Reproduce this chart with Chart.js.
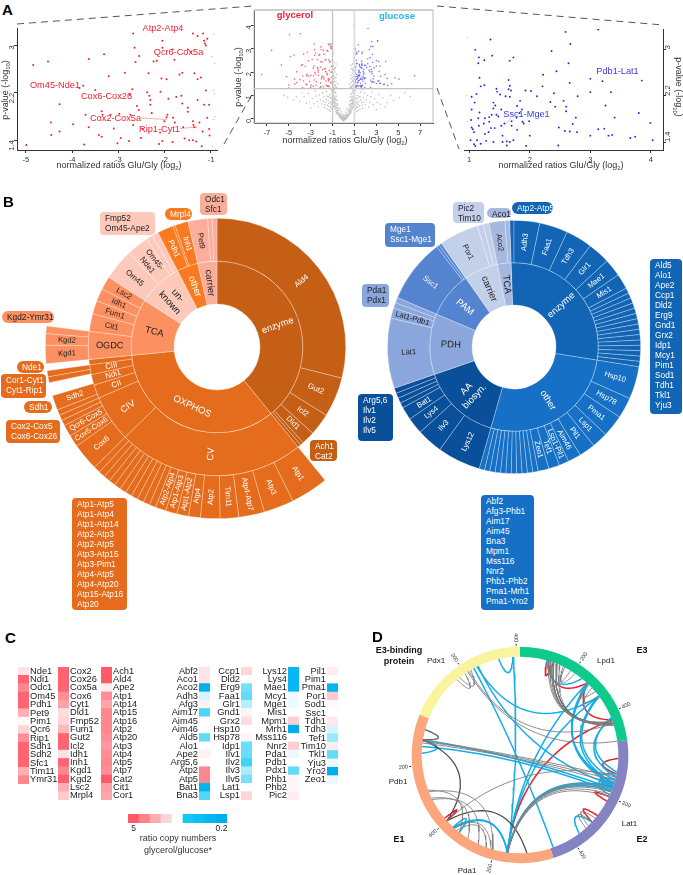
<!DOCTYPE html>
<html>
<head>
<meta charset="utf-8">
<title>Figure</title>
<script src="https://cdn.jsdelivr.net/npm/chart.js@4"></script>
<style>
  html, body { margin: 0; padding: 0; background: #fff; }
  body { position: relative; width: 683px; height: 875px; overflow: hidden; font-family: "Liberation Sans", Arial, sans-serif; color: #222; }
  canvas { position: absolute; }
  svg { position: absolute; left: 0; top: 0; }
  .t { position: absolute; white-space: nowrap; line-height: 1; }
  .t sub { font-size: 65%; line-height: 0; }
  .letter { font-weight: bold; font-size: 15px; color: #000; }
  .axis { font-size: 9px; color: #333; transform: translate(-50%, -50%); }
  .note { font-size: 9.2px; transform: translate(-50%, -50%); }
  .bold { font-weight: bold; font-size: 9px; color: #111; text-align: center; transform: translate(-50%, -50%); line-height: 11px; }
  .name { font-size: 8px; color: #222; transform: translate(-50%, -50%); }
  .box { position: absolute; box-sizing: border-box; font-size: 8.3px; line-height: 10px; white-space: pre; border-radius: 4px; padding: 1px 0 0 5px; }
</style>
</head>
<body>
<svg width="683" height="875">
  <g stroke="#444" stroke-width="0.9" stroke-dasharray="7,5" fill="none">
    <line x1="17" y1="24" x2="253" y2="6"/>
    <line x1="224" y1="144" x2="253" y2="93"/>
    <line x1="437" y1="6" x2="663" y2="25"/>
    <line x1="437" y1="88" x2="459" y2="149"/>
  </g>
  <g stroke="#f59aa0" stroke-width="0.8" fill="none">
    <line x1="141" y1="118" x2="167" y2="119.5"/>
    <line x1="180" y1="128.5" x2="197" y2="127"/>
  </g>
  <line x1="511" y1="118" x2="505" y2="125" stroke="#aab" stroke-width="0.6"/>
</svg>
<script>
// Panel A: values
const redPoints = [
  [-4.99,1.32],[-4.84,2.67],[-4.52,2.73],[-4.46,1.70],[-4.45,1.49],[-4.27,2.01],[-4.27,1.55],[-3.98,1.67],[-3.76,2.32],[-3.84,2.28],
  [-3.74,1.33],[-3.71,1.83],[-3.64,2.77],[-3.64,1.62],[-3.5,2.25],[-3.42,1.49],[-3.36,1.89],[-3.34,1.83],[-3.31,2.85],[-3.36,1.46],
  [-3.21,2.48],[-3.17,1.83],[-3.10,1.60],[-2.98,1.85],[-2.95,1.44],[-3.02,1.35],[-2.86,2.54],[-2.77,1.39],[-2.75,2.17],[-2.7,2.26],
  [-2.68,3.2],[-2.74,1.83],[-2.65,2.96],[-2.63,2.72],[-2.6,1.98],[-2.56,1.91],[-2.55,2.82],[-2.68,1.66],[-2.48,1.59],[-2.51,1.44],
  [-2.35,2.53],[-2.38,2.21],[-2.33,2.15],[-2.31,2.08],[-2.31,2.0],[-2.28,1.86],[-2.24,2.73],[-2.09,2.22],[-2.07,2.44],[-2.05,3.08],
  [-2.05,2.96],[-2.17,2.74],[-1.94,1.83],[-1.96,1.79],[-2.01,1.72],[-2.1,1.53],[-2.12,1.34],[-2.05,1.39],[-1.92,2.1],[-1.96,2.43],
  [-1.83,2.93],[-1.79,2.76],[-1.78,1.7],[-1.82,1.78],[-1.83,1.37],[-1.75,2.13],[-1.64,2.15],[-1.62,2.02],[-1.68,2.51],[-1.62,2.54],
  [-1.5,2.93],[-1.43,2.89],[-1.39,3.2],[-1.29,3.16],[-1.36,2.53],[-1.29,2.43],[-1.22,2.46],[-1.6,1.62],[-1.57,1.43],[-1.5,1.95],
  [-1.5,1.88],[-1.39,1.72],[-1.38,1.66],[-1.36,1.62],[-1.47,1.4],[-1.39,1.4],[-1.32,1.38],[-1.29,2.08],[-1.25,1.7],[-1.17,3.2],
  [-1.15,3.08],[-1.13,3.03],[-1.11,3.0],[-1.08,3.11],[-1.15,2.0],[-1.04,2.0],[-1.18,1.55],[-1.04,1.59],[-1.11,2.24],[-1.2,1.3],
  [-1.03,1.48],[-1.08,1.78]
];
const redEdgeGray = [[-0.94,3.19],[-0.98,2.81],[-0.92,2.7],[-0.95,2.24],[-0.92,1.8],[-0.95,1.75],[-0.93,2.18],[-0.97,1.3],[-0.9,1.25]];
const redExtra = [[-4.92,3.6],[-3.94,3.64],[-6.56,2.93],[-7.46,1.9],[-5.67,2.3],[-5.2,1.8],[-5.0,1.45]];

const bluePoints = [
  [1.35,3.17],[1.1,2.99],[1.16,2.86],[1.15,2.76],[1.25,2.81],[1.38,2.89],[1.67,2.8],[1.73,2.86],[2.36,2.97],[2.59,3.3],
  [2.67,3.09],[2.64,2.76],[3.13,3.34],[2.44,2.62],[2.22,2.56],[1.17,2.51],[1.25,2.38],[1.19,2.36],[1.65,2.47],[1.67,2.37],
  [1.45,2.32],[1.46,2.27],[1.65,2.31],[1.69,2.29],[1.12,2.23],[1.04,2.18],[1.51,2.22],[1.6,2.19],[1.67,2.18],[1.09,2.08],
  [1.4,2.08],[1.43,2.03],[1.84,2.11],[1.79,2.02],[1.93,2.29],[2.02,2.28],[2.12,2.19],[2.21,2.36],[2.4,2.24],[2.34,2.09],
  [2.56,2.11],[2.6,2.01],[2.6,1.93],[2.42,2.01],[2.66,2.42],[2.79,2.19],[3.0,2.49],[3.0,2.26],[3.2,2.45],[3.85,2.46],
  [3.34,2.26],[3.25,2.03],[3.4,1.82],[3.8,1.9],[2.76,1.82],[3.99,1.73],[1.04,1.96],[1.17,1.91],[1.03,1.78],[1.15,1.81],
  [1.26,1.81],[1.33,1.83],[1.37,1.87],[1.45,1.87],[1.48,1.84],[1.4,1.98],[1.53,1.96],[1.87,1.96],[1.83,1.9],[1.78,1.82],
  [1.7,1.76],[1.53,1.68],[1.58,1.72],[1.24,1.72],[1.16,1.68],[1.04,1.65],[1.06,1.62],[1.08,1.57],[1.33,1.75],[1.36,1.64],
  [1.42,1.64],[1.26,1.54],[1.32,1.57],[1.7,1.68],[1.79,1.61],[1.88,1.75],[1.9,1.72],[1.99,1.76],[2.0,1.51],[2.48,1.65],
  [2.58,1.59],[2.66,1.58],[2.71,1.71],[2.78,1.57],[3.0,1.51],[3.13,1.62],[3.23,1.63],[3.3,1.51],[3.36,1.52],[3.66,1.47],
  [3.74,1.49],[4.03,1.43],[1.02,1.43],[1.08,1.36],[1.13,1.43],[1.1,1.33],[1.19,1.37],[1.28,1.42],[1.4,1.4],[1.55,1.51],
  [1.55,1.4],[1.62,1.41],[1.62,1.34],[1.67,1.4],[1.73,1.43],[1.94,1.33],[2.47,1.34]
];
const blueEdgeGray = [[0.97,3.2],[0.95,2.2],[0.97,1.75],[0.96,1.33],[2.47,1.3],[1.94,1.28]];
const blueExtra = [[2.24,3.87],[6.5,1.84],[5.07,1.7],[3.1,3.33],[2.5,3.1],[4.4,1.5],[4.7,1.75]];

const grayPoints = [
  [0,-.08],[.1,-.05],[-.1,-.04],[.2,0],[-.2,0],[.05,0],[-.05,.02],[.3,.05],[-.3,.05],[.15,.06],[-.15,.07],[.4,.1],[-.4,.1],[.25,.12],[-.25,.13],[.02,.1],
  [.5,.15],[-.5,.16],[.35,.18],[-.35,.2],[.6,.22],[-.6,.22],[.45,.25],[-.45,.26],[.7,.3],[-.7,.3],[.55,.32],[-.55,.33],[.08,.03],[-.08,.08],[.18,.14],[-.18,.15],
  [.28,.03],[-.28,.02],[.12,.01],[-.12,.0],[.38,.14],[-.38,.15],[.62,.34],[-.62,.36],[.75,.4],[-.75,.41],[.85,.48],[-.85,.5],[.95,.55],[-.95,.56],[.66,.46],[-.66,.47],
  [.8,.6],[-.8,.62],[.9,.7],[-.9,.72],[.72,.66],[-.72,.68],[1.0,.8],[-1.0,.8],[.6,.55],[-.6,.58],[.5,.45],[-.5,.47],[.88,.85],[-.88,.88],[.78,.9],[-.78,.92],
  [.96,1.0],[-.96,1.02],[.7,1.05],[-.7,1.08],[.85,1.15],[-.85,1.17],[.92,1.25],[-.92,1.26],[1.05,.4],[-1.05,.42],[1.1,.6],[-1.1,.62],[1.2,.3],[-1.2,.32],[1.3,.5],[-1.3,.53],
  [1.15,.85],[-1.15,.87],[1.25,1.0],[-1.25,1.03],[1.1,1.2],[-1.1,1.22],[1.4,.75],[-1.4,.78],[1.5,.95],[-1.5,.97],[1.55,1.15],[-1.55,1.17],[1.45,.55],[-1.45,.58],[1.65,.7],[-1.65,.72],
  [1.75,.45],[-1.75,.48],[1.8,.9],[-1.8,.93],[1.9,1.1],[-1.9,1.12],[2.0,.6],[-2.0,.63],[2.1,.8],[-2.1,.82],[2.2,1.0],[-2.2,1.02],[2.3,.5],[-2.3,.52],[2.4,.7],[-2.4,.74],
  [2.5,.95],[-2.5,.98],[2.6,1.15],[-2.6,1.18],[2.7,.6],[-2.7,.64],[2.85,.85],[-2.85,.88],[3.0,.4],[-3.0,.45],[3.1,.7],[-3.1,.72],[3.2,1.05],[-3.2,1.08],[3.4,.62],[-3.4,.66],
  [3.6,.9],[-3.6,.94],[3.8,.5],[-3.8,1.1],[4.0,.7],[-4.0,.75],[4.3,1.0],[-4.3,.95],[4.6,.78],[-4.6,.82],[5.1,.9],[-5.1,.92],[5.6,1.1],[-5.4,1.0],[6.1,.95],[1.7,1.25],
  [-.98,1.4],[-.9,1.55],[-.85,1.7],[-.92,1.85],[-.78,2.0],[-.88,2.1],[-.95,2.25],[-.8,1.45],[-.7,1.6],[-.6,1.35],[-.65,1.9],[-.72,1.32],[-.55,1.5],[-.84,2.4],[-.9,2.8],[-.96,3.2],
  [.98,1.4],[.9,1.5],[.84,1.65],[.92,1.8],[.78,1.95],[.88,2.05],[.95,2.2],[.8,1.4],[.7,1.55],[.6,1.36],[.66,1.85],[.72,1.33],[.55,1.48],[.84,2.35],[.9,2.6],[.96,3.0],
  [.75,2.15],[.86,1.6],[.94,1.7],[.82,1.78],[.68,2.3],[-.74,2.2],[-.87,1.62],[-.94,1.75],[-.82,1.8],[-.68,2.35],[.92,4.0],[.3,.42],[-.3,.44],[.2,.28],[-.2,.3],[.42,.36],
  [-.42,.38],[.58,.62],[-.58,.64],[.68,.78],[-.68,.8],[.82,.72],[-.82,.74],[.98,.92],[-.98,.94],[1.02,1.1],[-1.02,1.12],[1.08,.72],[-1.08,.74],[1.18,.5],[-1.18,.52],[1.28,.72],
  [.03,-.03],[-.03,-.06],[.07,.05],[-.07,.04],[.14,-.02],[-.14,.03],[.22,.08],[-.22,.09],[.32,.1],[-.32,.11],[.04,.16],[-.04,.17],[.42,.2],[-.42,.21],[.52,.24],[-.52,.25],
  [.65,.27],[-.65,.27],[.24,.2],[-.24,.22],[.48,.34],[-.48,.36],[.58,.4],[-.58,.42],[.7,.5],[-.7,.52],[.8,.45],[-.8,.46],[.9,.5],[-.9,.53],[.97,.65],[-.97,.67],
  [.76,.56],[-.76,.58],[.84,.66],[-.84,.68],[.92,.8],[-.92,.82],[.8,.78],[-.8,.8],[.74,.84],[-.74,.86],[.86,.96],[-.86,.98],[.94,1.1],[-.94,1.12],[.78,1.12],[-.78,1.14],
  [.88,1.22],[-.88,1.24],[.66,.95],[-.66,.97],[.6,.75],[-.6,.78],[.54,.6],[-.54,.62],[1.04,.62],[-1.04,.64],[1.06,.9],[-1.06,.92],[1.12,.42],[-1.12,.44],[1.2,.68],[-1.2,.7],
  [1.22,.88],[-1.22,.9],[1.32,.35],[-1.32,.37],[1.35,.62],[-1.35,.65],[1.38,.92],[-1.38,.95],[1.5,.4],[-1.5,.42],[1.58,.8],[-1.58,.83],[1.7,.58],[-1.7,.6],[1.85,.72],[-1.85,.75],
  [.9,1.32],[.86,1.44],[.74,1.38],[.96,1.58],[.7,1.72],[.94,1.92],[.82,2.1],[-.9,1.34],[-.86,1.46],[-.74,1.4],[-.96,1.6],[-.7,1.76],[-.94,1.96],[-.82,2.14],[.98,2.45],[-.98,2.5]
];

// Panel B left: arc spans in degrees, clockwise from 12 o'clock
const leftInnerLabels = ['enzyme','OXPHOS','TCA','un-\nknown','other','carrier'];
const leftInnerSpans = [141,123.4,38.4,29.9,14.3,13];
const leftMidLabels = ['Ald4','Gut2','Icl2','Dld1','','','CV','CIV','CII','Ndi1','CIII','','OGDC','Cit1','Fum1','Idh1','Lsc2','Om45','Om45-\nNde1','','','Pdh1','','Inh1','Pet9','',''];
const leftMidSpans = [104,18,10,6,1.5,1.5,84.5,21.2,6.1,4.8,4.4,2.4,12.6,8,6,5.8,6,14.2,10,2.8,2.9,7.3,1,6,8.8,2.1,2.1];
const leftOuterLabels = ['','Atp1','Atp3','Atp4-Atp7','Tim11','Atp2','Atp4','Atp1-Atp2','Atp1-Atp3','Atp2-Atp4','','','','','','','','','','','','Cox6','Cox5-Cox6','Qcr6-Cox5','','','','Sdh2','','','','','Kgd1','Kgd2','',''];
const leftOuterSpans = [141,12.8,10.2,8.7,6.3,6.6,4,3.9,3.9,3.6,2.23,2.23,2.23,2.23,2.23,2.23,2.23,2.23,2.23,2.23,2.23,9.3,4,4,1.9,1.9,1.9,5,4.5,2,2,2.4,6.2,3.9,2.5,83];

// Panel B right
const rightInnerLabels = ['enzyme','other','AA\nbiosyn.','PDH','PAM','carrier','TCA'];
const rightInnerSpans = [101,97,55,42,32,23.6,9.4];
const rightOuterLabels = ['','Adh3','Faa1','Tdh3','Glr1','Mae1','Mis1','','','','','','','','','','','','','','','','Hsp10','Hsp78','Pma1','Lsp1','Pil1','Aim46','Lsp1-Pil1','Tef1','Zeo1','','','','','','','','','','','','Lys12','Ilv3','Lys4','Bat1','','','','','Lat1','Lat1-Pdb1','','','Ssc1','','','Por1','','','Aco2',''];
const rightOuterSpans = [2,11.8,13,12.2,10.2,8.1,7.1,2.44,2.44,2.44,2.44,2.44,2.44,2.44,2.44,2.44,2.44,2.44,2.44,2.44,2.44,2.44,15,9.6,10.1,7.3,7.5,6,4.5,5,5,2.45,2.45,2.45,2.45,2.45,2.45,2.45,2.45,2.45,2.45,2.45,19.9,11.9,7.6,6,2.4,2.4,2.4,2.4,32.2,4.8,2.5,2.5,29.4,1.3,1.3,18.2,2.7,2.7,7.3,2.1];

const atpBox = ['Atp1-Atp5','Atp1-Atp4','Atp1-Atp14','Atp2-Atp3','Atp2-Atp5','Atp3-Atp15','Atp3-Pim1','Atp4-Atp5','Atp4-Atp20','Atp15-Atp16','Atp20'];
const enzymeBox = ['Ald5','Alo1','Ape2','Ccp1','Dld2','Erg9','Gnd1','Grx2','Idp1','Mcy1','Pim1','Sod1','Tdh1','Tkl1','Yju3'];
const otherBox = ['Abf2','Afg3-Phb1','Aim17','Aim45','Bna3','Mpm1','Mss116','Nnr2','Phb1-Phb2','Pma1-Mrh1','Pma1-Yro2'];
const aaBox = ['Arg5,6','Ilv1','Ilv2','Ilv5'];

// Panel C: copy number ratios glycerol/glucose
const col1Names = ['Nde1','Ndi1','Odc1','Om45','Pdh1','Pet9','Pim1','Qcr6','Rip1','Sdh1','Sdh2','Sfc1','Tim11','Ymr31'];
const col1Ratios = [1.3,4.5,3.2,4.5,4.5,2.2,1.05,1.5,3,4.5,4.5,4.5,2.2,3.2];
const col2Names = ['Cox2','Cox26','Cox5a','Cox6','Cyt1','Dld1','Fmp52','Fum1','Gut2','Icl2','Idh1','Inh1','Kgd1','Kgd2','Lsc2','Mrpl4'];
const col2Ratios = [4.5,4.5,4.5,3,2.5,1.4,1.5,2,4.5,4.5,1.3,4.5,3.2,4.7,2.2,1.7];
const col3Names = ['Ach1','Ald4','Ape2','Atp1','Atp14','Atp15','Atp16','Atp2','Atp20','Atp3','Atp4','Atp5','Atp7','Cat2','Cit1','Cor1'];
const col3Ratios = [5,5,1.2,3,2.4,3.2,3.2,3.2,3,2.7,3,3.2,3,5,2.6,2.4];
const col4Names = ['Abf2','Aco1','Aco2','Adh3','Afg3','Aim17','Aim45','Aim46','Ald5','Alo1','Ape2','Arg5,6','Atp2','Atp5','Bat1','Bna3'];
const col4Ratios = [1.3,1.3,.2,.8,1.15,.4,1.02,1.02,.45,1,1.15,1,3.2,3.2,.22,.42];
const col5Names = ['Ccp1','Dld2','Erg9','Faa1','Glr1','Gnd1','Grx2','Hsp10','Hsp78','Idp1','Ilv1','Ilv2','Ilv3','Ilv5','Lat1','Lsp1'];
const col5Ratios = [1.5,1,.5,.45,.7,1.1,1.4,1,1.1,.47,.47,.38,.65,.5,1,1.5];
const col6Names = ['Lys12','Lys4','Mae1','Mcy1','Mge1','Mis1','Mpm1','Mrh1','Mss116','Nnr2','Pda1','Pdb1','Pdx1','Phb1','Phb2','Pic2'];
const col6Ratios = [.23,.23,.23,.92,.92,1,1.6,.2,1,1.6,.9,1,.45,1.1,1.1,1.2];
const col7Names = ['Pil1','Pim1','Pma1','Por1','Sod1','Ssc1','Tdh1','Tdh3','Tef1','Tim10','Tkl1','Yju3','Yro2','Zeo1'];
const col7Ratios = [1.2,1,.22,1.7,1.05,1,1.25,.8,.6,1.2,.45,.9,.2,.9];
const legendLabels = ['5','','','','','','','','0.2'];
const legendRatios = [5,3.4,2.3,1.5,1,.3,.26,.23,.2];

// Panel D: ring segments and crosslinks, positions in degrees on the ring
const ringSpans = [82,80,130,68];
const ringTickAngles = [33,65,115,148,195,228,264,326,358];
const ringTickLabels = ['200','400','200','400','200','400','200','200','400'];
const grayLinks = [
  [278.8,103],[278,105],[277,107],[327.9,81.9],[328.7,71.3],[228,102],[187.4,110.7],[187.4,112],[187.4,113.5],[187.4,115],[187.4,109],
  [16.9,70],[18,70.5],[19,71],[20,71.5],[22,72],[24,72.5],[26,34],[27,31],[43,50],[47,54],
  [249,218],[244,212],[243,205],[248,196],[222.5,197],[220,200],[330,322],[326,320],[133,138],[130,136],[285,279]
];
const darkLinks = [[278.8,228],[285,279],[228,176],[22,71],[20,71.5]];
const blueLinks = [
  [278.8,110],[275,112],[332,160.3],[334.7,108],[356,187],[347.5,356],[334,53.3],[187.4,43],[187.4,53.3],[187.4,108.8],[187.4,109.8],[187.4,111],
  [43,106.5],[43.5,107],[44,108],[53,107],[53.5,105],[67.8,100],[68,103],[15.7,39],[279,271],[222.6,187.2],[222,187.4],[222.8,218],[143,133],
  [106,112],[104,110],[108,114],[101,109]
];
const redLinks = [[187.4,69],[16.8,43],[43,69],[16,20],[92,101],[115,118],[133,128],[230,228]];

// Chart defaults
const FONT = '"Liberation Sans", Arial, sans-serif';
Chart.defaults.font.family = FONT;
Chart.defaults.animation = false;
Chart.defaults.responsive = false;
Chart.defaults.plugins.legend.display = false;
Chart.defaults.plugins.tooltip.enabled = false;

function addCanvas(left, top, width, height) {
  const canvas = document.createElement("canvas");
  canvas.width = width;
  canvas.height = height;
  canvas.style.left = left + "px";
  canvas.style.top = top + "px";
  canvas.style.width = width + "px";
  canvas.style.height = height + "px";
  document.body.appendChild(canvas);
  return canvas;
}

function addText(className, left, top, html, color, extraStyle) {
  const el = document.createElement("div");
  el.className = "t " + className;
  el.style.left = left + "px";
  el.style.top = top + "px";
  el.innerHTML = html;
  if (color) el.style.color = color;
  if (extraStyle) el.style.cssText += extraStyle;
  document.body.appendChild(el);
}

function addBox(left, top, width, height, lines, bg, fg, radius) {
  const el = document.createElement("div");
  el.className = "box";
  el.style.left = left + "px";
  el.style.top = top + "px";
  el.style.width = width + "px";
  el.style.height = height + "px";
  el.style.background = bg;
  el.style.color = fg;
  if (radius) el.style.borderRadius = radius + "px";
  el.textContent = lines.join("\n");
  document.body.appendChild(el);
}

const asXY = (pairs) => pairs.map((p) => ({ x: p[0], y: p[1] }));

// stops the layout from shrinking the plot for tick labels that stick out
function noOverflow(scale) {
  scale.paddingLeft = 0;
  scale.paddingRight = 0;
  scale.paddingTop = 0;
  scale.paddingBottom = 0;
}

// Panel A
function volcanoScale(min, max, ticks, fixedSize, extra) {
  return Object.assign({
    type: "linear",
    min: min,
    max: max,
    grid: { drawOnChartArea: false, drawTicks: true, tickLength: 3, color: "#333" },
    border: { display: true, color: "#333", width: 1 },
    ticks: { font: { size: 7.5 }, color: "#333", padding: 2, autoSkip: false, callback: (v) => String(v) },
    afterBuildTicks: (scale) => { scale.ticks = ticks.map((v) => ({ value: v })); },
    afterFit: (scale) => {
      if (scale.isHorizontal()) scale.height = fixedSize;
      else scale.width = fixedSize;
      noOverflow(scale);
    },
  }, extra || {});
}

function pointsDataset(pairs, color, radius) {
  return { data: asXY(pairs), pointRadius: radius, pointBackgroundColor: color, pointBorderWidth: 0, showLine: false };
}

function createSidePanel(canvas, datasets, xRange, yRange, xTicks, yTicks, yPosition) {
  const yScale = volcanoScale(yRange[0], yRange[1], yTicks, 17, { position: yPosition });
  yScale.ticks = Object.assign({}, yScale.ticks, { minRotation: 90, maxRotation: 90 });
  return new Chart(canvas, {
    type: "scatter",
    data: { datasets: datasets },
    options: { layout: { padding: 0 }, scales: { x: volcanoScale(xRange[0], xRange[1], xTicks, 14), y: yScale } },
  });
}

createSidePanel(addCanvas(0, 24, 221, 140),
  [pointsDataset(redEdgeGray, "#c9c9c9", 0.8), pointsDataset(redPoints, "#f0202e", 1.0)],
  [-5.19, -0.87], [1.237, 3.293], [-5, -4, -3, -2, -1], [1.4, 2.2, 3], "left");

createSidePanel(addCanvas(460, 25, 220, 139),
  [pointsDataset(blueEdgeGray, "#d4d4d4", 0.8), pointsDataset(bluePoints, "#2323e0", 0.95)],
  [0.914, 4.2], [1.262, 3.35], [1, 2, 3, 4], [1.4, 2.2, 3], "right");

const volcanoFrame = {
  id: "volcanoFrame",
  afterDatasetsDraw(chart) {
    const { ctx, chartArea: a, scales: { x, y } } = chart;
    ctx.save();
    ctx.strokeStyle = "#c4c4c4";
    ctx.lineWidth = 1.3;
    ctx.beginPath();
    ctx.moveTo(a.left, y.getPixelForValue(1.29));
    ctx.lineTo(a.right, y.getPixelForValue(1.29));
    ctx.moveTo(x.getPixelForValue(-1), a.top);
    ctx.lineTo(x.getPixelForValue(-1), a.bottom);
    ctx.stroke();
    ctx.strokeStyle = "#dedede";
    ctx.lineWidth = 1.8;
    ctx.beginPath();
    ctx.moveTo(x.getPixelForValue(1), a.top);
    ctx.lineTo(x.getPixelForValue(1), a.bottom);
    ctx.stroke();
    ctx.strokeStyle = "#bdbdbd";
    ctx.lineWidth = 1;
    ctx.strokeRect(a.left, a.top, a.right - a.left, a.bottom - a.top);
    ctx.strokeStyle = "#cfcfcf";
    ctx.lineWidth = 2.2;
    ctx.beginPath();
    ctx.moveTo(a.left, a.top);
    ctx.lineTo(a.right, a.top);
    ctx.stroke();
    ctx.restore();
  },
};

(function createCenterPanel() {
  const yScale = volcanoScale(-0.18, 4.66, [0, 1, 2, 3, 4], 18);
  yScale.ticks = Object.assign({}, yScale.ticks, { minRotation: 90, maxRotation: 90 });
  new Chart(addCanvas(236, 6, 201, 131), {
    type: "scatter",
    data: {
      datasets: [
        pointsDataset(grayPoints, "#bdbdbd", 0.75),
        pointsDataset(redPoints.concat(redExtra), "rgba(240,40,56,0.72)", 0.8),
        pointsDataset(bluePoints.concat(blueExtra), "rgba(50,50,235,0.65)", 0.8),
      ],
    },
    options: { layout: { padding: 0 }, scales: { x: volcanoScale(-8.17, 8.17, [-7, -5, -3, -1, 1, 3, 5, 7], 14), y: yScale } },
    plugins: [volcanoFrame],
  });
})();

const XLABEL = "normalized ratios Glu/Gly (log<sub>2</sub>)";
const PLABEL = "p-value (-log<sub>10</sub>)";
addText("letter", 2, 2, "A");
addText("axis", 119, 165, XLABEL);
addText("axis", 345, 140, XLABEL);
addText("axis", 561, 165, XLABEL);
addText("axis", 5, 90, PLABEL, null, "transform:translate(-50%,-50%) rotate(-90deg);");
addText("axis", 238, 77, PLABEL, null, "transform:translate(-50%,-50%) rotate(-90deg);");
addText("axis", 678, 87, PLABEL, null, "transform:translate(-50%,-50%) rotate(90deg);");
addText("t", 295, 15, "glycerol", "#f0203a", "transform:translate(-50%,-50%);font-weight:bold;font-size:9.5px;");
addText("t", 397, 15.5, "glucose", "#22b8ec", "transform:translate(-50%,-50%);font-weight:bold;font-size:9.5px;");
const RED_NOTE = "#ee2230";
const BLUE_NOTE = "#3a3ae4";
addText("note", 163, 28.5, "Atp2-Atp4", RED_NOTE);
addText("note", 178.5, 52.7, "Qcr6-Cox5a", RED_NOTE);
addText("note", 55, 85.7, "Om45-Nde1", RED_NOTE);
addText("note", 106.5, 97, "Cox6-Cox26", RED_NOTE);
addText("note", 115.5, 119, "Cox2-Cox5a", RED_NOTE);
addText("note", 159.5, 130, "Rip1-Cyt1", RED_NOTE);
addText("note", 617.5, 72, "Pdb1-Lat1", BLUE_NOTE);
addText("note", 526.5, 114.5, "Ssc1-Mge1", BLUE_NOTE);

// Panel B
const BROWN = "#c65f16", OX = "#e46c1c", TCA = "#fd9061", UNK = "#fcc9bb", OTH = "#fa7a21", CAR = "#fdae9b";
const B_ENZ = "#1265b4", B_OTH = "#1570c6", B_AA = "#0a4f99", B_PDH = "#8aa6dc", B_PAM = "#5484cf", B_CAR = "#c3d0ea", B_TCA = "#a6b8e0";
const NONE = "transparent";
const DARK_TEXT = [TCA, UNK, CAR, B_PDH, B_CAR, B_TCA];
const BIG_TEXT = ["CV", "CIV", "OGDC"];

function runs() {
  // runs(color, count, color, count, ...) gives one colour per arc
  const out = [];
  for (let i = 0; i < arguments.length; i += 2) {
    for (let n = 0; n < arguments[i + 1]; n++) out.push(arguments[i]);
  }
  return out;
}

function ring(spans, labels, colors, fontSize) {
  return {
    data: spans,
    labelsText: labels,
    labelFont: fontSize,
    backgroundColor: colors,
    borderColor: colors.map((c) => (c === NONE ? NONE : "rgba(255,255,255,0.36)")),
    borderWidth: 0.8,
  };
}

const sunLabels = {
  id: "sunLabels",
  afterDatasetsDraw(chart) {
    const ctx = chart.ctx;
    chart.data.datasets.forEach((ds, di) => {
      chart.getDatasetMeta(di).data.forEach((arc, i) => {
        const text = ds.labelsText[i];
        if (!text) return;
        const p = arc.getProps(["x", "y", "startAngle", "endAngle", "innerRadius", "outerRadius"]);
        const mid = (p.startAngle + p.endAngle) / 2;
        const rad = (p.innerRadius + p.outerRadius) / 2;
        const theta = (mid * 180) / Math.PI + 90;
        const norm = ((theta % 360) + 360) % 360;
        let rot = norm < 180 ? norm - 90 : norm - 270;
        if (text === "OXPHOS") rot = 25;
        const size = BIG_TEXT.includes(text) ? 9.2 : ds.labelFont;
        ctx.save();
        ctx.translate(p.x + rad * Math.cos(mid), p.y + rad * Math.sin(mid));
        ctx.rotate((rot * Math.PI) / 180);
        ctx.font = size + "px " + FONT;
        ctx.textAlign = "center";
        ctx.textBaseline = "middle";
        ctx.fillStyle = DARK_TEXT.includes(ds.backgroundColor[i]) ? "#222" : "#fff";
        const lines = text.split("\n");
        lines.forEach((line, n) => {
          ctx.fillText(line, 0, (n - (lines.length - 1) / 2) * (size + 1.5));
        });
        ctx.restore();
      });
    });
  },
};

function createSunburst(cx, cy, radius, hole, datasets, rotation) {
  const size = Math.ceil(radius * 2 + 2);
  const canvas = addCanvas(cx - size / 2, cy - size / 2, size, size);
  return new Chart(canvas, {
    type: "doughnut",
    data: { datasets: datasets },
    options: { rotation: rotation, cutout: hole, layout: { padding: 0 } },
    plugins: [sunLabels],
  });
}

createSunburst(216.7, 347.3, 171, 43, [
  ring(leftOuterSpans, leftOuterLabels, runs(NONE, 1, OX, 20, OX, 7, NONE, 1, OX, 2, NONE, 1, TCA, 3, NONE, 1), 7.6),
  ring(leftMidSpans, leftMidLabels, runs(BROWN, 6, OX, 6, TCA, 5, UNK, 4, OTH, 3, CAR, 3), 7.8),
  ring(leftInnerSpans, leftInnerLabels, [BROWN, OX, TCA, UNK, OTH, CAR], 9.5),
], 0);

createSunburst(514, 347.3, 126, 42, [
  ring(rightOuterSpans, rightOuterLabels, runs(B_ENZ, 22, B_OTH, 20, B_AA, 8, B_PDH, 4, B_PAM, 3, B_CAR, 3, B_TCA, 2), 7.6),
  ring(rightInnerSpans, rightInnerLabels, [B_ENZ, B_OTH, B_AA, B_PDH, B_PAM, B_CAR, B_TCA], 9.5),
], -2);

addText("letter", 3, 194, "B");
addBox(200, 193, 27, 22, ["Odc1", "Sfc1"], CAR, "#222");
addBox(165, 208, 27, 11.5, ["Mrpl4"], OTH, "#fff", 6);
addBox(100, 212, 55, 23, ["Fmp52", "Om45-Ape2"], UNK, "#222");
addBox(2, 311, 52, 11.5, ["Kgd2-Ymr31"], TCA, "#222", 6);
addBox(17, 361, 27, 11.5, ["Nde1"], OX, "#fff", 6);
addBox(1, 374, 45, 24, ["Cor1-Cyt1", "Cyt1-Rip1"], OX, "#fff");
addBox(24, 401, 28, 11.5, ["Sdh1"], OX, "#fff", 6);
addBox(6, 420, 54, 23, ["Cox2-Cox5", "Cox6-Cox26"], OX, "#fff");
addBox(310, 440, 27, 21, ["Ach1", "Cat2"], BROWN, "#fff");
addBox(72, 498, 55, 112, atpBox, OX, "#fff");
addBox(453, 202, 31, 21, ["Pic2", "Tim10"], B_CAR, "#222");
addBox(487, 208, 24, 9.5, ["Aco1"], B_TCA, "#222", 5);
addBox(512, 202, 41, 12, ["Atp2-Atp5"], B_ENZ, "#fff", 6);
addBox(385, 223, 50, 24, ["Mge1", "Ssc1-Mge1"], B_PAM, "#fff");
addBox(362, 284, 27, 23, ["Pda1", "Pdx1"], B_PDH, "#222");
addBox(650, 259, 32, 155, enzymeBox, B_ENZ, "#fff");
addBox(358, 394, 35, 47, aaBox, B_AA, "#fff");
addBox(481, 495, 53, 115, otherBox, B_OTH, "#fff");

// Panel C
function mix(a, b, t) {
  const r = Math.round(a[0] + (b[0] - a[0]) * t);
  const g = Math.round(a[1] + (b[1] - a[1]) * t);
  const bl = Math.round(a[2] + (b[2] - a[2]) * t);
  return `rgb(${r},${g},${bl})`;
}

function ratioColor(ratio) {
  const t = Math.min(1, Math.abs(Math.log(ratio)) / Math.log(5));
  if (ratio >= 1) return mix([255, 255, 255], [255, 90, 102], t);
  if (t < 0.75) return mix([255, 255, 255], [16, 200, 246], t / 0.75);
  return mix([16, 200, 246], [0, 174, 240], (t - 0.75) / 0.25);
}

const ROW_H = 8.33;
const CELL_W = 11;
const NAME_W = 44;

function createHeatColumn(cellLeft, names, ratios, namesOn) {
  const height = Math.round(names.length * ROW_H);
  const left = namesOn === "right" ? cellLeft : cellLeft - NAME_W;
  const canvas = addCanvas(left, 667, CELL_W + NAME_W, height + 1);
  return new Chart(canvas, {
    type: "bar",
    data: {
      labels: names,
      datasets: [{
        data: ratios.map(() => 1),
        backgroundColor: ratios.map(ratioColor),
        barPercentage: 1,
        categoryPercentage: 1,
        borderWidth: 0,
      }],
    },
    options: {
      indexAxis: "y",
      layout: { padding: { bottom: 1 } },
      scales: {
        x: { display: false, min: 0, max: 1 },
        y: {
          position: namesOn,
          grid: { display: false, drawTicks: false },
          border: { display: false },
          ticks: { autoSkip: false, font: { size: 9.3 }, color: "#222", padding: 1, maxRotation: 0, minRotation: 0 },
          afterFit: (scale) => { scale.width = NAME_W; noOverflow(scale); },
        },
      },
    },
  });
}

addText("letter", 5, 630, "C");
createHeatColumn(18, col1Names, col1Ratios, "right");
createHeatColumn(58, col2Names, col2Ratios, "right");
createHeatColumn(101, col3Names, col3Ratios, "right");
createHeatColumn(199, col4Names, col4Ratios, "left");
createHeatColumn(240.5, col5Names, col5Ratios, "left");
createHeatColumn(287.5, col6Names, col6Ratios, "left");
createHeatColumn(326.5, col7Names, col7Ratios, "left");

new Chart(addCanvas(128, 814, 99, 20), {
  type: "bar",
  data: {
    labels: legendLabels,
    datasets: [{
      data: legendRatios.map(() => 1),
      backgroundColor: legendRatios.map(ratioColor),
      barPercentage: 1,
      categoryPercentage: 1,
      borderWidth: 0,
    }],
  },
  options: {
    layout: { padding: 0 },
    scales: {
      y: { display: false, min: 0, max: 1 },
      x: {
        grid: { display: false, drawTicks: false },
        border: { display: false },
        ticks: { autoSkip: false, font: { size: 8.5 }, color: "#222", padding: 1, maxRotation: 0 },
        afterFit: (scale) => { scale.height = 11; noOverflow(scale); },
      },
    },
  },
});
addText("axis", 178, 838, "ratio copy numbers");
addText("axis", 178, 850, "glycerol/glucose*");

// Panel D
const RING_X = 520, RING_Y = 755, RING_OUTER = 108.3, RING_HOLE = 98.3;

const ringTicks = {
  id: "ringTicks",
  afterDatasetsDraw(chart) {
    const ctx = chart.ctx;
    const arc = chart.getDatasetMeta(0).data[0];
    const { x, y } = arc.getProps(["x", "y"]);
    ctx.save();
    ctx.fillStyle = "#333";
    ctx.strokeStyle = "#222";
    ctx.lineWidth = 1;
    ctx.font = "5.5px " + FONT;
    ctx.textAlign = "center";
    ctx.textBaseline = "middle";
    ringTickAngles.forEach((deg, i) => {
      const a = ((deg - 90) * Math.PI) / 180;
      ctx.beginPath();
      ctx.moveTo(x + (RING_OUTER + 1) * Math.cos(a), y + (RING_OUTER + 1) * Math.sin(a));
      ctx.lineTo(x + (RING_OUTER + 3) * Math.cos(a), y + (RING_OUTER + 3) * Math.sin(a));
      ctx.stroke();
      ctx.save();
      ctx.translate(x + (RING_OUTER + 9) * Math.cos(a), y + (RING_OUTER + 9) * Math.sin(a));
      ctx.rotate((((deg < 180 ? deg - 90 : deg - 270)) * Math.PI) / 180);
      ctx.fillText(ringTickLabels[i], 0, 0);
      ctx.restore();
    });
    ctx.restore();
  },
};

new Chart(addCanvas(RING_X - 132, RING_Y - 132, 264, 264), {
  type: "doughnut",
  data: { datasets: [{ data: ringSpans, backgroundColor: ["#10c98c", "#8584c2", "#fba67c", "#faf4a0"], borderWidth: 0 }] },
  options: { cutout: RING_HOLE, layout: { padding: 132 - RING_OUTER } },
  plugins: [ringTicks],
});

// a link between two ring positions, bent towards the middle like in circos
function linkPath(fromDeg, toDeg) {
  const r = RING_HOLE / 110;
  const a = (fromDeg * Math.PI) / 180;
  const b = (toDeg * Math.PI) / 180;
  const p0 = { x: r * Math.sin(a), y: r * Math.cos(a) };
  const p2 = { x: r * Math.sin(b), y: r * Math.cos(b) };
  let gap = Math.abs(fromDeg - toDeg);
  if (gap > 180) gap = 360 - gap;
  const k = Math.min(0.7, Math.max(0, 0.9 - gap / 110));
  const c = { x: ((p0.x + p2.x) / 2) * k, y: ((p0.y + p2.y) / 2) * k };
  const pts = [];
  for (let i = 0; i <= 24; i++) {
    const t = i / 24;
    pts.push({
      x: (1 - t) * (1 - t) * p0.x + 2 * t * (1 - t) * c.x + t * t * p2.x,
      y: (1 - t) * (1 - t) * p0.y + 2 * t * (1 - t) * c.y + t * t * p2.y,
    });
  }
  return pts;
}

function linkDatasets(links, color, width) {
  return links.map((l) => ({
    data: linkPath(l[0], l[1]),
    showLine: true,
    borderColor: color,
    borderWidth: width,
    pointRadius: 0,
    tension: 0,
  }));
}

new Chart(addCanvas(RING_X - 110, RING_Y - 110, 220, 220), {
  type: "scatter",
  data: {
    datasets: [].concat(
      linkDatasets(grayLinks, "#808080", 0.9),
      linkDatasets(darkLinks, "#474747", 1.2),
      linkDatasets(blueLinks, "#14aeea", 1.5),
      linkDatasets(redLinks, "#ec1c2e", 1.5)
    ),
  },
  options: {
    layout: { padding: 0 },
    scales: {
      x: { display: false, min: -1, max: 1 },
      y: { display: false, min: -1, max: 1 },
    },
  },
});

addText("letter", 372, 629, "D");
addText("bold", 399, 655.5, "E3-binding<br>protein");
addText("bold", 642, 650, "E3");
addText("bold", 642, 839, "E2");
addText("bold", 399, 839, "E1");
addText("name", 606, 661, "Lpd1");
addText("name", 629.5, 823.5, "Lat1");
addText("name", 467, 871, "Pda1");
addText("name", 398, 782, "Pdb1");
addText("name", 436, 661, "Pdx1");
</script>
</body>
</html>
